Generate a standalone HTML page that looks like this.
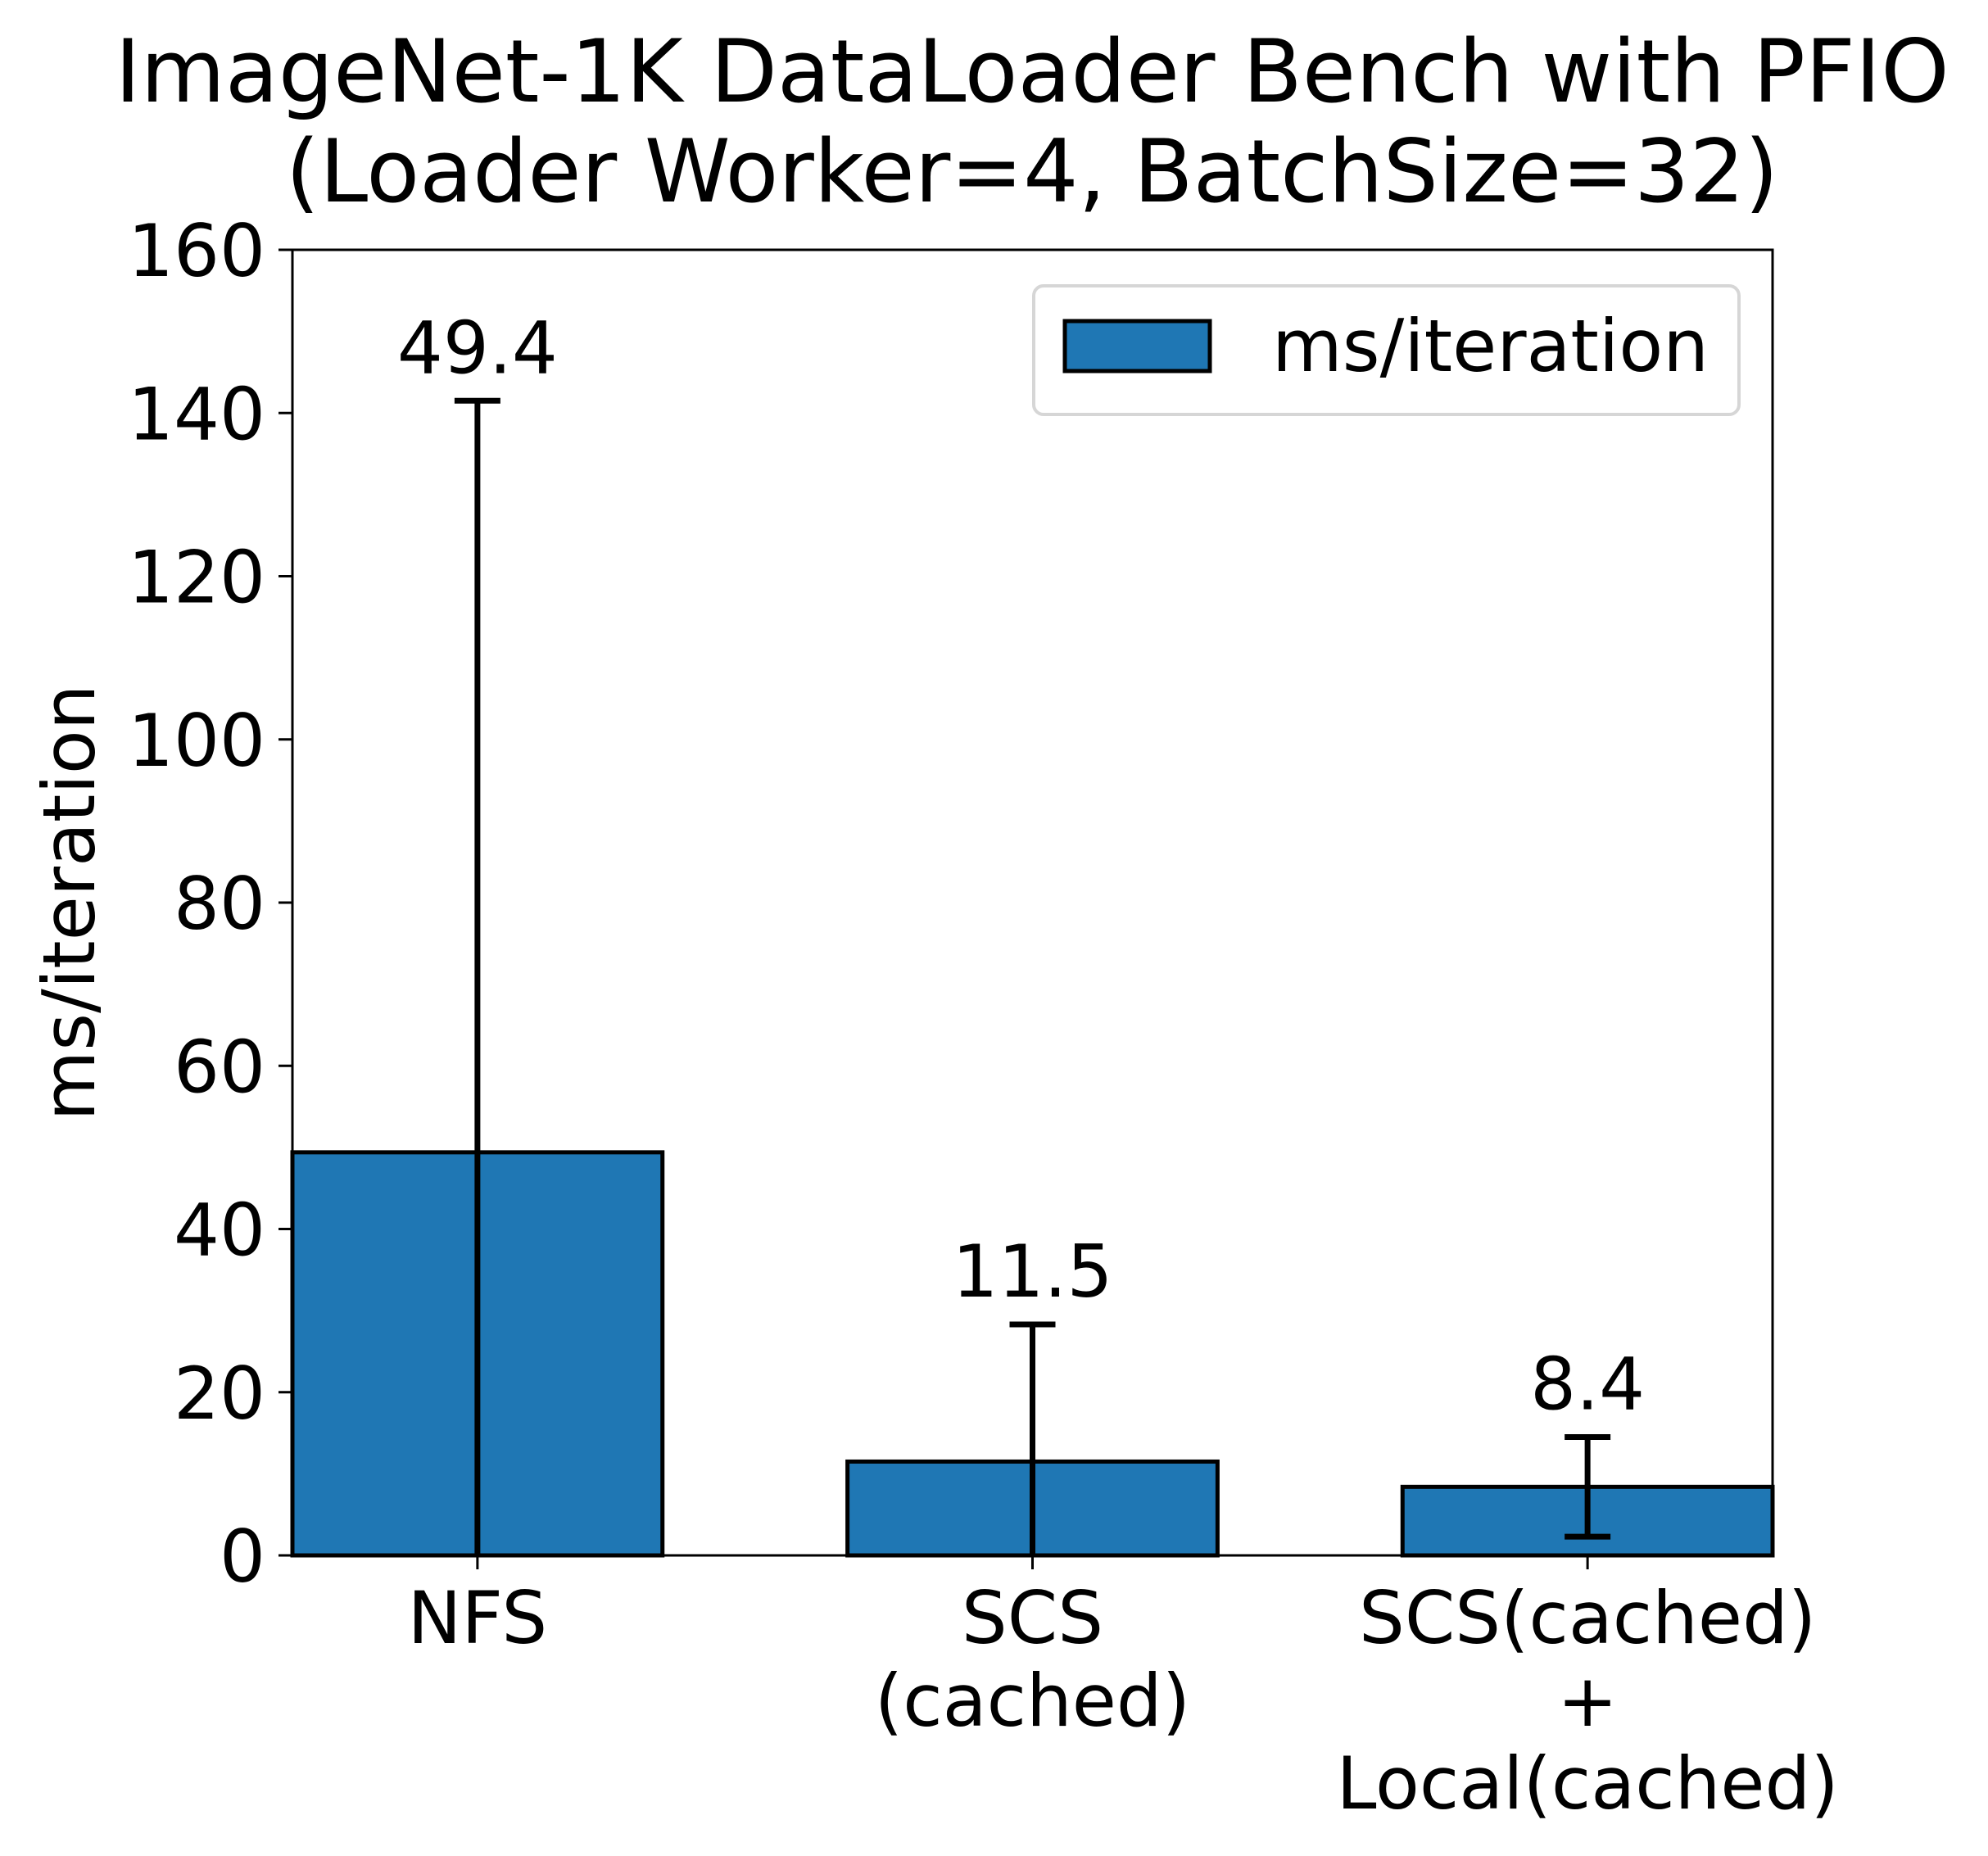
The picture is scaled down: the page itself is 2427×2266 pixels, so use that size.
<!DOCTYPE html>
<html><head><meta charset="utf-8"><style>
html,body{margin:0;padding:0;background:#fff;}
svg{display:block;font-family:"DejaVu Sans","Liberation Sans",sans-serif;}
</style></head><body>
<svg id="chart" width="2427" height="2266" viewBox="0 0 2427 2266" xmlns="http://www.w3.org/2000/svg">
<rect width="2427" height="2266" fill="#fff"/>
<text x="1260" y="124" font-size="106" text-anchor="middle">ImageNet-1K DataLoader Bench with PFIO</text>
<text x="1260" y="246" font-size="106" text-anchor="middle">(Loader Worker=4, BatchSize=32)</text>
<text x="0" y="0" font-size="88" text-anchor="middle" transform="translate(115,1102) rotate(-90)">ms/iteration</text>
<g id="plot"></g>
<g id="legend">
<rect x="1262" y="349" width="861" height="157" rx="12" fill="#fff" fill-opacity="0.8" stroke="#d6d6d6" stroke-width="4"/>
<rect x="1300" y="392" width="177" height="61" fill="#1f77b4" stroke="#000" stroke-width="5"/>
<text x="1553" y="453" font-size="88">ms/iteration</text>
</g>
</svg>
<script>
const categories = [["NFS"], ["SCS", "(cached)"], ["SCS(cached)", "+", "Local(cached)"]];
const values = [49.4, 11.5, 8.4];
const errors = [92.1, 16.8, 6.1];
const valueLabels = ["49.4", "11.5", "8.4"];
const yTicks = [0, 20, 40, 60, 80, 100, 120, 140, 160];

const NS = "http://www.w3.org/2000/svg";
const L = 357, R = 2164, T = 305, B = 1899;
const xMin = -1/3, xMax = 7/3, yMin = 0, yMax = 160;
function xs(v){ return L + (v - xMin) / (xMax - xMin) * (R - L); }
function ys(v){ return B - (v - yMin) / (yMax - yMin) * (B - T); }
function mk(tag, attrs){ const e = document.createElementNS(NS, tag); for (const k in attrs) e.setAttribute(k, attrs[k]); return e; }
const plot = document.getElementById('plot');
const clip = mk('clipPath', {id:'axclip'});
clip.appendChild(mk('rect', {x:L, y:T, width:R-L, height:B-T}));
plot.appendChild(clip);

values.forEach((v, i) => {
  const x0 = xs(i - 1/3), x1 = xs(i + 1/3);
  const bar = mk('rect', {x:x0, y:ys(v), width:x1-x0, height:ys(0)-ys(v), fill:'#1f77b4', stroke:'#000', 'stroke-width':5});
  
  
  plot.appendChild(bar);
});
values.forEach((v, i) => {
  const cx = xs(i), hi = v + errors[i], lo = v - errors[i];
  const g = mk('g', {'clip-path':'url(#axclip)', stroke:'#000', 'stroke-width':7});
  
  
  g.appendChild(mk('line', {x1:cx, x2:cx, y1:ys(hi), y2:ys(lo)}));
  g.appendChild(mk('line', {x1:cx-28, x2:cx+28, y1:ys(hi), y2:ys(hi)}));
  g.appendChild(mk('line', {x1:cx-28, x2:cx+28, y1:ys(lo), y2:ys(lo)}));
  plot.appendChild(g);
  const t = mk('text', {x:cx, y:ys(hi) - 34, 'font-size':88, 'text-anchor':'middle'});
  t.textContent = valueLabels[i];
  
  
  plot.appendChild(t);
});
const frame = mk('rect', {x:L, y:T, width:R-L, height:B-T, fill:'none', stroke:'#000', 'stroke-width':3});


plot.appendChild(frame);
yTicks.forEach(v => {
  const y = ys(v);
  const tk = mk('line', {x1:L-17, x2:L, y1:y, y2:y, stroke:'#000', 'stroke-width':3});
  
  
  plot.appendChild(tk);
  const t = mk('text', {x:L-33, y:y+32, 'font-size':88, 'text-anchor':'end'});
  t.textContent = String(v);
  
  
  plot.appendChild(t);
});
categories.forEach((lines, i) => {
  const x = xs(i);
  const tk = mk('line', {x1:x, x2:x, y1:B, y2:B+17, stroke:'#000', 'stroke-width':3});
  
  
  plot.appendChild(tk);
  lines.forEach((s, j) => {
    const t = mk('text', {x:x, y:2006 + j*101, 'font-size':88, 'text-anchor':'middle'});
    t.textContent = s;
    
    
    plot.appendChild(t);
  });
});
</script>
</body></html>
